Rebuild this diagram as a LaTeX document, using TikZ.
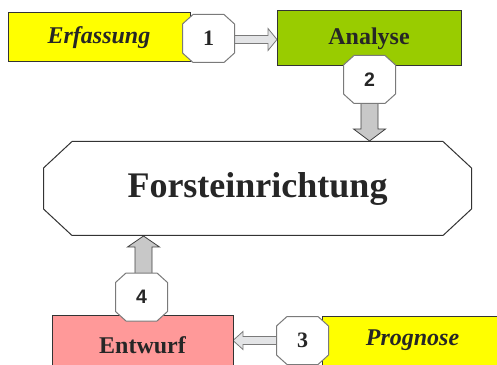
\documentclass[tikz,border=0pt]{standalone}
\usepackage{fontspec}
\setmainfont{Liberation Serif}
\newfontfamily\numfont{Liberation Sans}
\usetikzlibrary{calc,backgrounds}

\definecolor{boxyellow}{HTML}{FFFF00}
\definecolor{boxgreen}{HTML}{99CC00}
\definecolor{boxpink}{HTML}{FF9999}
\definecolor{boxline}{HTML}{333333}
\definecolor{inktext}{HTML}{262626}
\definecolor{octline}{HTML}{7A7A7A}
\definecolor{flatfill}{HTML}{E3E4E6}
\definecolor{flatline}{HTML}{7A7A7A}
\definecolor{fatfill}{HTML}{C8C8C8}
\definecolor{fatline}{HTML}{404040}

\tikzset{
  box/.style={rectangle, draw=boxline, line width=1pt, inner sep=0pt, outer sep=0pt,
    text=inktext, font=\fontsize{24}{28}\selectfont\bfseries},
  % octagon with chamfers #1 (horizontal) and #2 (vertical), drawn inside the node rectangle
  octo/.style n args={3}{rectangle, inner sep=0pt, outer sep=0pt, text=inktext,
    path picture={
      \filldraw[fill=white, draw=#3, line width=1pt, line join=miter]
        ([shift={(#1,-0.5pt)}]path picture bounding box.north west)
        -- ([shift={(-#1,-0.5pt)}]path picture bounding box.north east)
        -- ([shift={(-0.5pt,-#2)}]path picture bounding box.north east)
        -- ([shift={(-0.5pt,#2)}]path picture bounding box.south east)
        -- ([shift={(-#1,0.5pt)}]path picture bounding box.south east)
        -- ([shift={(#1,0.5pt)}]path picture bounding box.south west)
        -- ([shift={(0.5pt,#2)}]path picture bounding box.south west)
        -- ([shift={(0.5pt,-#2)}]path picture bounding box.north west)
        -- cycle;
    }},
  badge/.style={octo={11pt}{10pt}{octline}, minimum width=53pt, minimum height=49pt},
  serifnum/.style={font=\fontsize{22}{24}\selectfont\bfseries},
  sansnum/.style={font=\numfont\fontsize{19.5}{22}\selectfont\bfseries},
  flatarrow/.style={fill=flatfill, draw=flatline, line width=0.8pt, line join=miter},
  fatarrow/.style={fill=fatfill, draw=fatline, line width=0.8pt, line join=miter}
}

\begin{document}
\begin{tikzpicture}[x=1pt,y=1pt]
  \path[use as bounding box, clip] (0,0) rectangle (497,364);

  % process boxes
  \node[box, fill=boxyellow, minimum width=182pt, minimum height=49pt] (erf) at (99,326.5) {\itshape Erfassung};
  \node[box, fill=boxgreen, minimum width=184pt, minimum height=55pt] (ana) at (369,325.5) {Analyse};
  \node[box, fill=boxpink, minimum width=181pt, minimum height=60pt] (ent) at (142.5,19) {Entwurf};
  \node[box, fill=boxyellow, minimum width=181pt, minimum height=49pt] (pro) at (412.5,23.5) {\itshape Prognose};

  % central octagon
  \node[octo={29pt}{27pt}{boxline}, minimum width=429pt, minimum height=95pt,
        font=\fontsize{36}{40}\selectfont\bfseries] (main) at (257.5,175.5) {Forsteinrichtung};

  % numbered step badges
  \node[badge, serifnum] (o1) at (208.5,325.5) {1};
  \node[badge, sansnum]  (o2) at (369.5,284.5) {2};
  \node[badge, serifnum] (o3) at (302.5,23.5) {3};
  \node[badge, sansnum]  (o4) at (141.5,67) {4};

  % white page and block arrows beneath the boxes
  \begin{pgfonlayer}{background}
    \fill[white] (0,0) rectangle (497,364);
    \draw[flatarrow] let \p1=(o1.east), \p2=(ana.west) in
      (\x1-3pt,\y1+3pt) -- (\x2-9pt,\y1+3pt) -- (\x2-9pt,\y1+10pt) -- (\x2,\y1-1pt)
      -- (\x2-9pt,\y1-12pt) -- (\x2-9pt,\y1-5pt) -- (\x1-3pt,\y1-5pt) -- cycle;
    \draw[flatarrow] let \p1=(o3.west), \p2=(ent.east) in
      (\x1+3pt,\y1+4pt) -- (\x2+10pt,\y1+4pt) -- (\x2+10pt,\y1+9pt) -- (\x2,\y1)
      -- (\x2+10pt,\y1-9pt) -- (\x2+10pt,\y1-4pt) -- (\x1+3pt,\y1-4pt) -- cycle;
    \draw[fatarrow] let \p1=(o2.south), \p2=(main.north) in
      (\x1-8.5pt,\y1+3pt) -- (\x1-8.5pt,\y2+12pt) -- (\x1-16pt,\y2+12pt) -- (\x1,\y2)
      -- (\x1+16pt,\y2+12pt) -- (\x1+8.5pt,\y2+12pt) -- (\x1+8.5pt,\y1+3pt) -- cycle;
    \draw[fatarrow] let \p1=(o4.north), \p2=(main.south) in
      (\x1-6.5pt,\y1-3pt) -- (\x1-6.5pt,\y2-11pt) -- (\x1-14pt,\y2-11pt) -- (\x1+2pt,\y2)
      -- (\x1+18pt,\y2-11pt) -- (\x1+10.5pt,\y2-11pt) -- (\x1+10.5pt,\y1-3pt) -- cycle;
  \end{pgfonlayer}
\end{tikzpicture}
\end{document}
